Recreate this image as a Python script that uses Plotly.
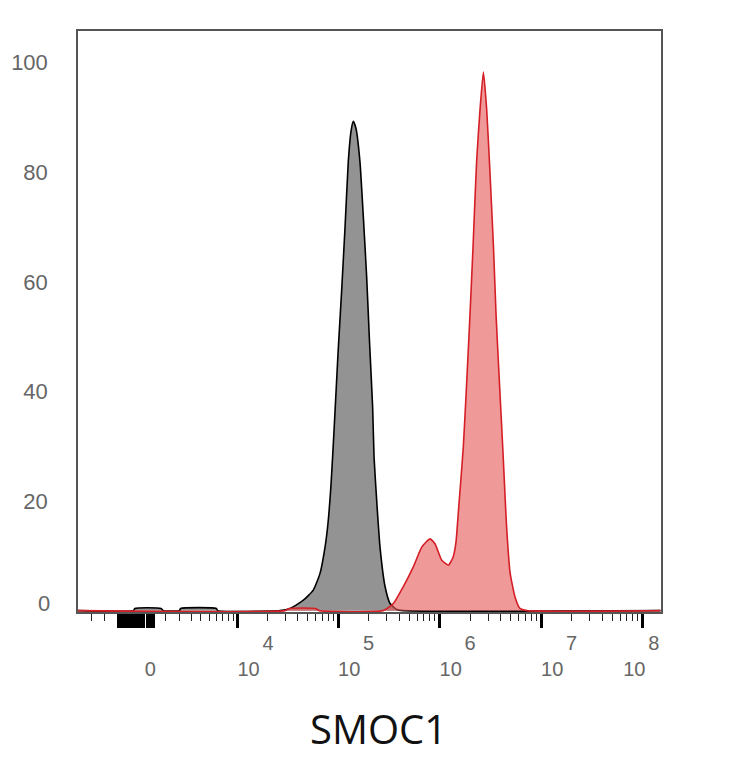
import numpy as np
import plotly.graph_objects as go

# SMOC1 channel intensity and event counts
# isotype control (grey)
ctrl_intensity = [-7000, -1100, -1000, 700, 850, 2000, 2100, 6000, 6200,
                  26700, 33600, 45400, 56900, 66300, 74300, 79500, 85100, 91200, 99800,
                  108000, 117000, 126000, 134000, 141000, 150000, 164000, 177000, 191000,
                  204000, 219000, 226000, 242000, 259000, 290000, 325000, 378000, 436000, 1.5e8]
ctrl_count = [0, 0, 0.4, 0.4, 0, 0, 0.4, 0.4, 0,
              0, 0.4, 1.9, 3.75, 6.8, 11.6, 16, 23, 33, 47,
              58, 70, 82, 87.5, 89.3, 88, 82, 72, 61,
              49, 37, 28, 19, 11.5, 4.4, 1.3, 0.2, 0, 0]

# anti-SMOC1 stained (red)
smoc1_intensity = [-7000, 30000, 33000, 60000, 65000, 277000, 350000, 439000, 551000,
                   667000, 804000, 901000, 1050000, 1220000, 1360000, 1450000, 1530000,
                   1710000, 1850000, 1990000, 2130000, 2210000, 2320000, 2500000, 2700000,
                   2910000, 3090000, 3260000, 3400000, 3600000, 3880000, 4190000, 4410000,
                   4580000, 4940000, 5530000, 6190000, 7260000, 1.5e8]
smoc1_count = [0, 0, 0.4, 0.4, 0, 0, 1.3, 4.4, 8,
               11.6, 13.1, 12.2, 9.2, 8.3, 9.8, 12.5, 18,
               29.7, 41.8, 53.9, 66, 73.3, 82.3, 91.4, 98.3,
               91.4, 82.3, 73.3, 66, 53.9, 41.8, 29.7, 21,
               15, 7, 2.5, 0.4, 0, 0]

decades = [4, 5, 6, 7, 8]
y_ticks = [20, 40, 60, 80, 100]


def biex(v):
    # arcsinh display scale, roughly like the cytometry software axis
    return np.arcsinh(np.asarray(v, dtype=float) / 2816.0)


NB = "\u00a0"


def decade_text(e):
    if e == 8:
        return NB * 4 + str(e) + "<br>10" + NB * 3
    return NB * 11 + str(e) + "<br>" + NB * 4 + "10"


near_zero = [v for v in range(-2200, 201, 200) if v != 0]
major_vals = near_zero + [0] + [10 ** e for e in decades]
major_text = [""] * len(near_zero) + [NB + "<br>0"] + [decade_text(e) for e in decades]

minor_vals = [-7000, -5000, -3500] + [k * 1000 for k in range(1, 10)]
for e in decades[:-1]:
    minor_vals += [k * 10 ** e for k in range(2, 10)]

fig = go.Figure()
fig.add_trace(go.Scatter(
    x=biex(ctrl_intensity), y=ctrl_count, mode="lines",
    line=dict(color="black", width=1.6, shape="spline", smoothing=0.5),
    fill="tozeroy", fillcolor="#939393", showlegend=False))
fig.add_trace(go.Scatter(
    x=biex(smoc1_intensity), y=smoc1_count, mode="lines",
    line=dict(color="#d41f26", width=1.6, shape="spline", smoothing=0.5),
    fill="tozeroy", fillcolor="rgba(230,90,90,0.62)", showlegend=False))

# page body has an 8px margin, so the plot box is shifted up/left by 8
fig.update_layout(
    width=734, height=768,
    margin=dict(l=70, r=81, t=23, b=164),
    plot_bgcolor="white", paper_bgcolor="white",
    font=dict(family="Liberation Sans, Arial", color="#666"),
)
fig.update_xaxes(
    range=[-1.638, 11.588], automargin=False,
    showline=True, mirror=True, linecolor="#555", linewidth=1.5,
    showgrid=False, zeroline=False,
    ticks="outside", ticklen=14, tickwidth=3, tickcolor="black",
    tickmode="array", tickvals=biex(major_vals), ticktext=major_text,
    tickfont=dict(size=20, color="#666"),
    ticklabelstandoff=-2,
    minor=dict(tickmode="array", tickvals=biex(minor_vals), ticks="outside",
               ticklen=7, tickwidth=1, tickcolor="#222", showgrid=False),
)
fig.update_yaxes(
    range=[-0.25, 105.8], automargin=False,
    showline=True, mirror=True, linecolor="#555", linewidth=1.5,
    showgrid=False, zeroline=False, ticks="",
    tickmode="array", tickvals=y_ticks,
    tickfont=dict(size=22, color="#666"),
    ticklabelstandoff=24,
)
fig.add_annotation(x=0, y=0, xref="paper", yref="y", text="0", showarrow=False,
                   xanchor="right", yanchor="middle", xshift=-26, yshift=7,
                   font=dict(size=22, color="#666"))
fig.add_annotation(x=0.515, y=-0.201, xref="paper", yref="paper", text="SMOC1",
                   showarrow=False, xanchor="center", yanchor="middle",
                   font=dict(family="Open Sans", size=40, color="#111"))

fig.write_html("out.html")
